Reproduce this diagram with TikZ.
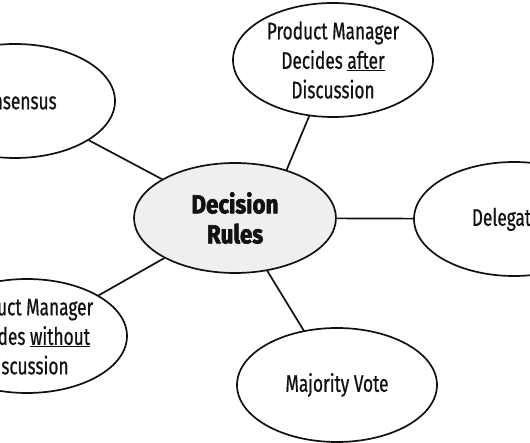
\documentclass[tikz,border=0pt]{standalone}
\usepackage{fontspec}
\setmainfont{Fira Sans}[FakeStretch=0.72,FakeBold=0.6]
\newfontfamily\hubfont{Fira Sans}[FakeStretch=0.86,FakeBold=2.4]
\usetikzlibrary{shapes.geometric}
\definecolor{ink}{HTML}{111111}
\definecolor{hubfill}{HTML}{EFEFEF}

\begin{document}
\begin{tikzpicture}[x=1pt,y=1pt,line cap=round,line join=round,
    leaf/.style={ellipse,draw=ink,line width=1.7pt,fill=white,
      minimum width=200pt,minimum height=114pt,inner sep=0pt,
      align=center,text=ink,font=\fontsize{24}{29.5}\selectfont},
    hub/.style={leaf,fill=hubfill,minimum width=202pt,minimum height=110pt,
      font=\hubfont\bfseries\fontsize{26}{30}\selectfont},
    link/.style={draw=ink,line width=1.7pt}]
  \useasboundingbox (0,0) rectangle (530,442);
  \clip (0,0) rectangle (530,442);

  \node[hub] (rules) at (235,224) {Decision\\Rules};

  \node[leaf] (consensus) at (15,341) {Consensus};
  \node[leaf] (after) at (333,382)
    {Product Manager\\Decides \underline{after}\\Discussion};
  \node[leaf] (delegation) at (514,223) {Delegation};
  \node[leaf] (without) at (27,106)
    {Product Manager\\Decides \underline{without}\\Discussion};
  \node[leaf] (majority) at (337,57) {Majority Vote};

  \draw[link] (consensus) -- (rules);
  \draw[link] (after.247) -- (rules.43);
  \draw[link] (rules) -- (delegation);
  \draw[link] (rules) -- (without);
  \draw[link] (rules) -- (majority);
\end{tikzpicture}
\end{document}
